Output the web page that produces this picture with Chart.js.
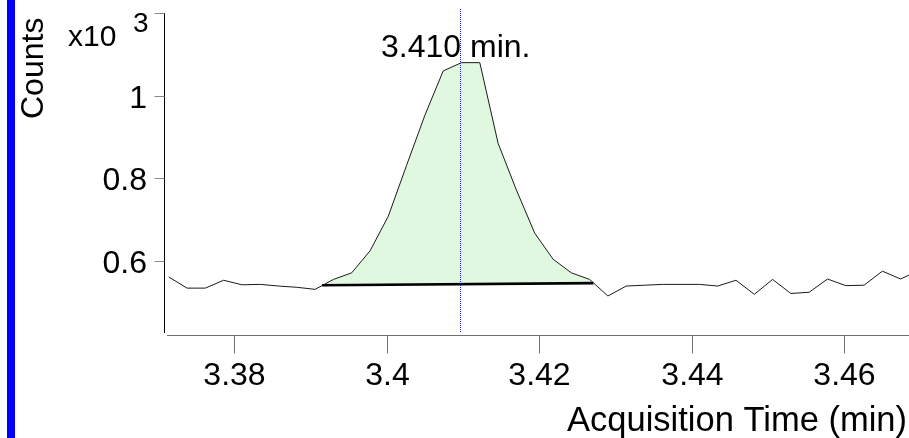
<!DOCTYPE html>
<html>
<head>
<meta charset="utf-8">
<title>Peak 3.410 min</title>
<script src="https://cdn.jsdelivr.net/npm/chart.js@4/dist/chart.umd.min.js"></script>
<style>
  html, body { margin: 0; padding: 0; background: #fff; overflow: hidden; }
  canvas { display: block; }
</style>
</head>
<body>
<canvas id="chart" width="909" height="438"></canvas>
<script>
// acquisition time (min) of each scan
const times = [3.3714, 3.3738, 3.3762, 3.3786, 3.3810, 3.3834, 3.3858, 3.3882, 3.3906, 3.3930,
  3.3954, 3.3978, 3.4002, 3.4026, 3.4050, 3.4074, 3.4098, 3.4122, 3.4146, 3.4170,
  3.4194, 3.4218, 3.4242, 3.4266, 3.4290, 3.4314, 3.4338, 3.4362, 3.4386, 3.4410,
  3.4434, 3.4458, 3.4482, 3.4506, 3.4530, 3.4554, 3.4578, 3.4602, 3.4626, 3.4650,
  3.4674, 3.4698];
// counts, x10^3
const counts = [0.562, 0.535, 0.535, 0.554, 0.543, 0.544, 0.540, 0.537, 0.532, 0.556,
  0.572, 0.625, 0.709, 0.832, 0.953, 1.060, 1.080, 1.080, 0.885, 0.772,
  0.668, 0.605, 0.572, 0.556, 0.516, 0.540, 0.542, 0.544, 0.544, 0.544,
  0.540, 0.554, 0.520, 0.556, 0.522, 0.525, 0.557, 0.541, 0.542, 0.576,
  0.557, 0.578];

// integration window and its baseline
const peakStart = 3.3915;
const peakEnd = 3.4271;
const baseStart = 0.542;
const baseEnd = 0.547;
const peakRT = 3.4096;
const peakLabel = "3.410 min.";

const xTicks = [3.38, 3.40, 3.42, 3.44, 3.46];
const xTickText = ["3.38", "3.4", "3.42", "3.44", "3.46"];
const yTicks = [0.6, 0.8, 1.0, 1.2];
const yTickText = ["0.6", "0.8", "1", ""];

const xRange = [3.37078, 3.46849];
const yRange = [0.4265, 1.2];

const FONT = '"Liberation Sans", Arial, Helvetica, sans-serif';

const trace = times.map((t, i) => ({ x: t, y: counts[i] }));
const peakArea = [
  { x: peakStart, y: baseStart },
  ...trace.filter((p) => p.x > peakStart && p.x < peakEnd),
  { x: peakEnd, y: baseEnd },
];
const baseline = [
  { x: peakStart, y: baseStart },
  { x: peakEnd, y: baseEnd },
];

// axes, labels and the retention time marker are drawn by hand
const decorations = {
  id: "decorations",
  afterDatasetsDraw(chart) {
    const { ctx, chartArea, scales } = chart;
    const x = scales.x;
    const y = scales.y;
    ctx.save();

    // blue bar on the far left
    ctx.fillStyle = "#0000ff";
    ctx.fillRect(7, 0, 8, chart.height);

    // retention time marker
    const rx = Math.round(x.getPixelForValue(peakRT)) + 0.5;
    ctx.strokeStyle = "#1c1cd8";
    ctx.lineWidth = 1;
    ctx.setLineDash([1, 1]);
    ctx.beginPath();
    ctx.moveTo(rx, 9);
    ctx.lineTo(rx, chartArea.bottom);
    ctx.stroke();
    ctx.setLineDash([]);

    // y axis
    const ax = chartArea.left + 0.5;
    ctx.strokeStyle = "#000";
    ctx.beginPath();
    ctx.moveTo(ax, y.getPixelForValue(yRange[1]));
    ctx.lineTo(ax, chartArea.bottom);
    ctx.stroke();

    ctx.strokeStyle = "#888";
    ctx.fillStyle = "#000";
    ctx.font = "32px " + FONT;
    ctx.textAlign = "right";
    ctx.textBaseline = "alphabetic";
    yTicks.forEach((v, i) => {
      const py = Math.round(y.getPixelForValue(v)) + 0.5;
      ctx.beginPath();
      ctx.moveTo(ax - 10, py);
      ctx.lineTo(ax, py);
      ctx.stroke();
      if (yTickText[i]) ctx.fillText(yTickText[i], 147, py + 11);
    });

    // x axis, a little below the plot
    const ay = chartArea.bottom + 2.5;
    ctx.strokeStyle = "#707070";
    ctx.beginPath();
    ctx.moveTo(chartArea.left + 3, ay);
    ctx.lineTo(chart.width, ay);
    ctx.stroke();
    ctx.textAlign = "center";
    xTicks.forEach((v, i) => {
      const px = Math.round(x.getPixelForValue(v)) + 0.5;
      ctx.beginPath();
      ctx.moveTo(px, ay);
      ctx.lineTo(px, ay + 18);
      ctx.stroke();
      ctx.fillText(xTickText[i], px, 385);
    });

    // axis titles
    ctx.font = "34.5px " + FONT;
    ctx.textAlign = "right";
    ctx.fillText("Acquisition Time (min)", 907, 431);

    ctx.font = "30px " + FONT;
    ctx.textAlign = "left";
    ctx.fillText("x10", 68, 46);
    ctx.font = "28px " + FONT;
    ctx.fillText("3", 133, 32);

    ctx.save();
    ctx.translate(43, 119);
    ctx.rotate(-Math.PI / 2);
    ctx.font = "32px " + FONT;
    ctx.fillText("Counts", 0, 0);
    ctx.restore();

    // peak label
    ctx.font = "32px " + FONT;
    ctx.textAlign = "left";
    ctx.fillText(peakLabel, 381, 57);

    ctx.restore();
  },
};

new Chart(document.getElementById("chart"), {
  type: "line",
  data: {
    datasets: [
      {
        label: "trace",
        data: trace,
        borderColor: "#1a1a1a",
        borderWidth: 1,
        pointRadius: 0,
        fill: false,
        order: 0,
      },
      {
        label: "peak",
        data: peakArea,
        borderWidth: 0,
        borderColor: "rgba(0,0,0,0)",
        backgroundColor: "#e0f8e0",
        pointRadius: 0,
        fill: 2,
        order: 2,
      },
      {
        label: "baseline",
        data: baseline,
        borderColor: "#000",
        borderWidth: 2.6,
        pointRadius: 0,
        fill: false,
        order: 1,
      },
    ],
  },
  options: {
    responsive: false,
    animation: false,
    devicePixelRatio: 1,
    layout: { padding: { left: 164, top: 13, right: 0, bottom: 105 } },
    elements: { line: { tension: 0 } },
    plugins: {
      legend: { display: false },
      tooltip: { enabled: false },
    },
    scales: {
      x: { type: "linear", min: xRange[0], max: xRange[1], display: false },
      y: { type: "linear", min: yRange[0], max: yRange[1], display: false },
    },
  },
  plugins: [decorations],
});
</script>
</body>
</html>
